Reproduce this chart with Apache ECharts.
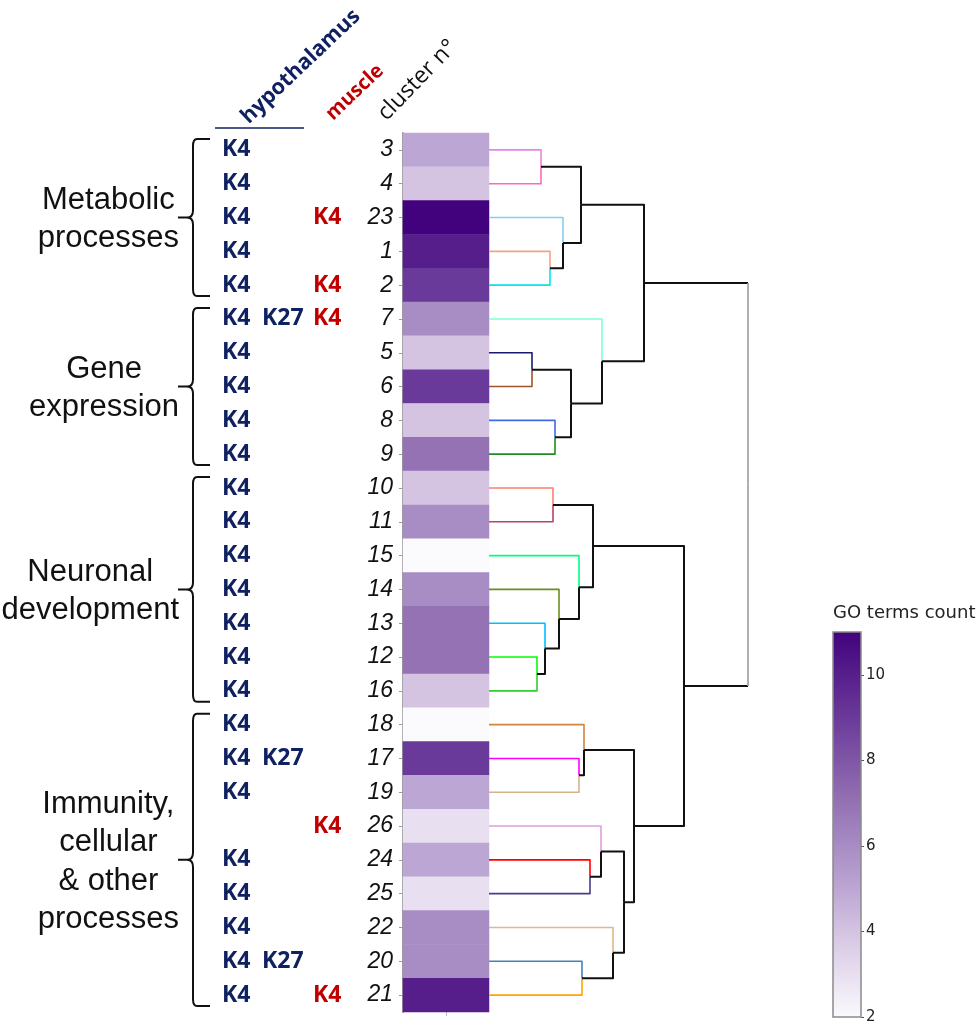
<!DOCTYPE html>
<html><head><meta charset="utf-8">
<script src="https://cdn.jsdelivr.net/npm/echarts@6/dist/echarts.min.js"></script>
<style>html,body{margin:0;padding:0;background:#fff}#c{width:977px;height:1025px}</style>
</head><body><div id="c"></div>
<script>
// ---------- data ----------
const clusters = ['3','4','23','1','2','7','5','6','8','9','10','11','15','14','13','12','16','18','17','19','26','24','25','22','20','21'];
const goCounts = [5,4,11,10,9,6,4,9,4,7,4,6,2,6,7,7,4,2,9,5,3,5,3,6,6,10];
const hypK4  = ['K4','K4','K4','K4','K4','K4','K4','K4','K4','K4','K4','K4','K4','K4','K4','K4','K4','K4','K4','K4','','K4','K4','K4','K4','K4'];
const hypK27 = ['','','','','','K27','','','','','','','','','','','','','K27','','','','','','K27',''];
const muscleK4 = ['','','K4','','K4','K4','','','','','','','','','','','','','','','K4','','','','','K4'];
const groupNames = [['Metabolic','processes'],['Gene','expression'],['Neuronal','development'],['Immunity,','cellular','& other','processes']];
const groupStart = [0,5,10,17];
const groupEnd   = [4,9,16,25];
// dendrogram linkage (node name, left child, right child, merge distance)
const mergeNames  = ['A','B','C','D','E','F','G','H','I','J','K','L','M','N','O','P','Q','R','S','T','U','V','W','X','root'];
const mergeLeft   = ['3','1','23','A','5','8','E','7','D','10','12','13','14','15','J','17','18','24','26','20','22','S','Q','O','I'];
const mergeRight  = ['4','2','B','C','6','9','F','G','H','11','16','K','L','M','N','19','P','25','R','21','T','U','V','W','X'];
const mergeHeight = [0.52,0.61,0.74,0.92,0.43,0.66,0.82,1.13,1.55,0.64,0.48,0.56,0.70,0.90,1.04,0.90,0.95,1.01,1.12,0.93,1.24,1.35,1.45,1.95,2.59];
const colorbarTicks = [2,4,6,8,10];
const countMin = 2, countMax = 11;

// ---------- styles ----------
const purples = ['#fbfafd','#e8dff0','#d4c4e2','#bca6d3','#a88cc4','#9472b3','#7f56a7','#6a3a9a','#561e8b','#42027d'];
const leafColor = {'3':'#e586e5','4':'#ff69b4','23':'#87ceeb','1':'#f4a283','2':'#00e5f0','7':'#7fffd4','5':'#191970','6':'#a0522d','8':'#4169e1','9':'#228b22','10':'#fa8072','11':'#b8446e','15':'#00ff7f','14':'#6b8e23','13':'#00bfff','12':'#00ff00','16':'#32cd32','18':'#cd853f','17':'#ff00ff','19':'#d2b48c','26':'#dda0dd','24':'#ff0000','25':'#483d8b','22':'#deb887','20':'#4682b4','21':'#ffa500'};
const NAVY = '#0f2161', RED = '#c00000';

// ---------- dendrogram geometry ----------
const nodeY = {}, nodeH = {};
clusters.forEach((c,i)=>{ nodeY[c]=i; nodeH[c]=0; });
mergeNames.forEach((n,k)=>{ nodeH[n]=mergeHeight[k]; nodeY[n]=(nodeY[mergeLeft[k]]+nodeY[mergeRight[k]])/2; });
const segs = [], segColor = [], segWidth = [];
mergeNames.forEach((n,k)=>{
  const h = mergeHeight[k], isRoot = k === mergeNames.length-1;
  [mergeLeft[k], mergeRight[k]].forEach(ch=>{
    const leaf = ch in leafColor;
    const col = leaf ? leafColor[ch] : '#111';
    if (isRoot) {
      segs.push([nodeH[ch],nodeY[ch],h,nodeY[ch],h,nodeY[ch]]); segColor.push('#111'); segWidth.push(2);
      segs.push([h,nodeY[ch],h,nodeY[ch],h,nodeY[n]]); segColor.push('#9a9a9a'); segWidth.push(1.6);
    } else {
      segs.push([nodeH[ch],nodeY[ch],h,nodeY[ch],h,nodeY[n]]); segColor.push(col); segWidth.push(leaf?1.6:2);
    }
  });
});

const chart = echarts.init(document.getElementById('c'));
const option = {
  backgroundColor:'#fff',
  animation:false,
  grid:[
    {left:403, top:133, width:86, height:879},
    {left:833, top:632, width:28, height:385},
    {left:489, top:133, width:259, height:879}
  ],
  xAxis:[
    {gridIndex:0, type:'category', data:[''], axisLine:{show:false}, axisTick:{show:true, alignWithLabel:true, length:4, lineStyle:{color:'#bbb'}}, axisLabel:{show:false}, splitLine:{show:false}},
    {gridIndex:1, type:'category', data:[''], show:false},
    {gridIndex:2, type:'value', min:0, max:mergeHeight[mergeHeight.length-1], show:false}
  ],
  yAxis:[
    {gridIndex:0, type:'category', data:clusters, inverse:true,
     axisLine:{show:true, lineStyle:{color:'#9a9a9a', width:2}},
     axisTick:{show:true, alignWithLabel:true, length:4, lineStyle:{color:'#9a9a9a'}},
     axisLabel:{fontStyle:'italic', fontSize:23, fontFamily:'Liberation Sans', color:'#111', margin:10},
     splitLine:{show:false}},
    {gridIndex:1, type:'value', min:countMin, max:countMax, position:'right',
     axisLine:{show:false}, splitLine:{show:false},
     axisTick:{show:true, customValues:colorbarTicks, length:3, lineStyle:{color:'#555'}},
     axisLabel:{customValues:colorbarTicks, fontSize:15, fontFamily:'DejaVu Sans', color:'#222', margin:5}},
    {gridIndex:2, type:'value', min:-0.5, max:clusters.length-0.5, inverse:true, show:false}
  ],
  visualMap:{show:false, type:'continuous', min:countMin, max:countMax, dimension:2, seriesIndex:0, inRange:{color:purples}},
  series:[
    {type:'heatmap', xAxisIndex:0, yAxisIndex:0, data:goCounts.map((v,i)=>[0,i,v]), emphasis:{disabled:true}, itemStyle:{borderWidth:0}},
    // row annotations K4 / K27
    {type:'custom', xAxisIndex:0, yAxisIndex:0, silent:true, data:clusters.map((c,i)=>[0,i]),
     renderItem:(p,api)=>{
       const y = api.coord([0, api.value(1)])[1];
       const gx = p.coordSys.x;
       const f = 'bold 23px "Open Sans"';
       return {type:'group', children:[
         {type:'text', x:gx-181, y:y, style:{text:hypK4[p.dataIndex], font:f, fill:NAVY, verticalAlign:'middle'}},
         {type:'text', x:gx-141, y:y, style:{text:hypK27[p.dataIndex], font:f, fill:NAVY, verticalAlign:'middle'}},
         {type:'text', x:gx-90, y:y, style:{text:muscleK4[p.dataIndex], font:f, fill:RED, verticalAlign:'middle'}}
       ]};
     }},
    // group braces and labels
    {type:'custom', xAxisIndex:0, yAxisIndex:0, silent:true, data:groupStart.map((s,i)=>[0,s,groupEnd[i]]),
     renderItem:(p,api)=>{
       const band = api.size([0,1])[1];
       const y1 = api.coord([0, api.value(1)])[1] - band/2 + 6;
       const y2 = api.coord([0, api.value(2)])[1] + band/2 - 6;
       const ym = (y1+y2)/2;
       const gx = p.coordSys.x;
       const bx = gx-210, hx = gx-193, tx = gx-225;
       const r = 7;
       const path = `M${hx} ${y1} L${bx+4} ${y1} Q${bx} ${y1} ${bx} ${y1+r} L${bx} ${ym-r} Q${bx} ${ym} ${bx-6} ${ym} L${tx} ${ym} M${bx-6} ${ym} Q${bx} ${ym} ${bx} ${ym+r} L${bx} ${y2-r} Q${bx} ${y2} ${bx+4} ${y2} L${hx} ${y2}`;
       const lines = groupNames[p.dataIndex];
       const font = '31px "Liberation Sans"';
       const ctx = document.createElement('canvas').getContext('2d'); ctx.font = font;
       const w = Math.max(...lines.map(l=>ctx.measureText(l).width));
       const cx = gx-224 - w/2;
       return {type:'group', children:[
         {type:'path', shape:{pathData:path}, style:{stroke:'#111', lineWidth:2, fill:null}},
         {type:'text', x:cx, y:ym+2, style:{text:lines.join('\n'), font:font, lineHeight:38.5, fill:'#111', align:'center', verticalAlign:'middle'}}
       ]};
     }},
    // colour bar
    {type:'custom', xAxisIndex:1, yAxisIndex:1, silent:true, data:[[0,countMin,countMax]],
     renderItem:(p,api)=>{
       const top = api.coord([0, api.value(2)])[1], bot = api.coord([0, api.value(1)])[1];
       const stops = purples.map((c,i)=>({offset:1-i/(purples.length-1), color:c}));
       return {type:'rect', shape:{x:p.coordSys.x, y:top, width:p.coordSys.width, height:bot-top},
         style:{fill:new echarts.graphic.LinearGradient(0,0,0,1,stops), stroke:'#8a8a8a', lineWidth:1.5}};
     }},
    // dendrogram
    {type:'custom', xAxisIndex:2, yAxisIndex:2, silent:true, data:segs,
     renderItem:(p,api)=>{
       const pts=[]; for(let j=0;j<3;j++) pts.push(api.coord([api.value(2*j), api.value(2*j+1)]));
       return {type:'polyline', shape:{points:pts}, style:{stroke:segColor[p.dataIndex], lineWidth:segWidth[p.dataIndex], fill:null, lineJoin:'round'}};
     }}
  ],
  graphic:[
    {type:'text', x:252, y:128, rotation:0.76, style:{text:'hypothalamus', font:'bold 21.5px "Open Sans"', fill:NAVY, verticalAlign:'bottom'}},
    {type:'line', shape:{x1:215,y1:128,x2:304,y2:128}, style:{stroke:NAVY, lineWidth:1.5}},
    {type:'text', x:336, y:124, rotation:0.76, style:{text:'muscle', font:'bold 20px "Open Sans"', fill:RED, verticalAlign:'bottom'}},
    {type:'text', x:390, y:125, rotation:0.8, style:{text:'cluster n°', font:'23px "Open Sans"', fill:'#111', verticalAlign:'bottom'}},
    {type:'text', x:833, y:613, style:{text:'GO terms count', font:'18px "DejaVu Sans"', fill:'#222', verticalAlign:'middle'}}
  ]
};
chart.setOption(option);
</script></body></html>
